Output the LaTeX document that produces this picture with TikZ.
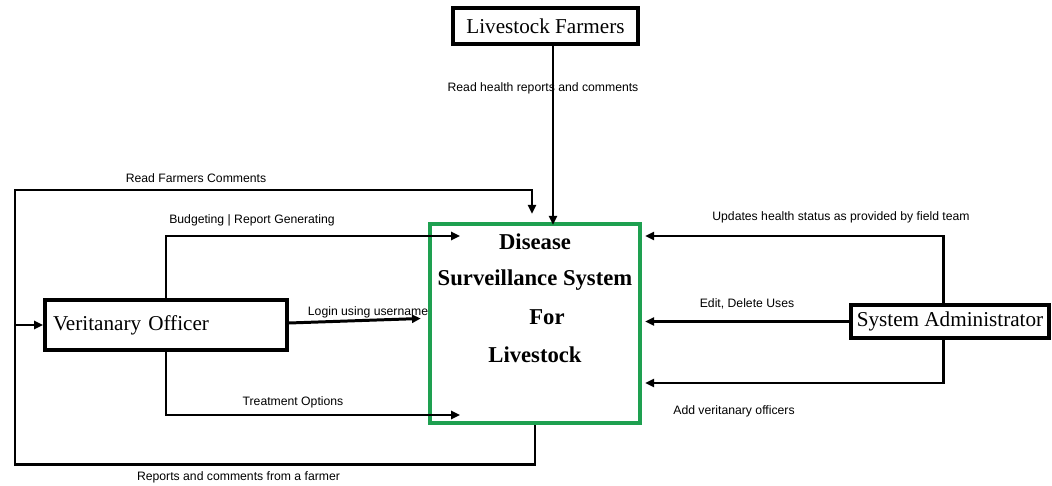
\documentclass[tikz,border=0pt]{standalone}
\usepackage{fontspec}
\setmainfont{Liberation Serif}
\newfontfamily\labelfont{Liberation Sans}
\usetikzlibrary{arrows.meta,calc}
\definecolor{sysgreen}{RGB}{30,160,80}
\begin{document}
\begin{tikzpicture}[x=0.02cm,y=-0.02cm,
  actor/.style={draw=black,line width=2.3pt,fill=white,inner sep=0pt,
    font=\fontsize{12.05}{14}\selectfont},
  system/.style={draw=sysgreen,line width=2.6pt,inner sep=0pt,
    minimum width=4.2cm,minimum height=3.98cm},
  systext/.style={font=\fontsize{12.9}{15}\selectfont\bfseries,inner sep=0pt},
  conn/.style={draw=black,line width=1.7pt},
  arr/.style={conn,-{Triangle[length=5pt,width=4.6pt]}},
  flow/.style={font=\labelfont\fontsize{6.95}{8}\selectfont,inner sep=0pt}]
\useasboundingbox (0,0) rectangle (1052,486);

% central system
\node[system] (dss) at (535,323.5) {};
\node[systext] (s1) at (535,242) {Disease};
\node[systext] (s2) at (535,280) {Surveillance System};
\node[systext] (s3) at (547,317) {For};
\node[systext] (s4) at (535,355) {Livestock};

% external entities
\node[actor,minimum width=3.7cm,minimum height=0.72cm] (farmers) at (545.5,26) {Livestock Farmers};
\node[actor,minimum height=1cm,text width=4.52cm,inner xsep=0.16cm,align=left] (officer) at (166,325) {Veritanary Officer};
\node[actor,minimum width=3.96cm,minimum height=0.66cm] (admin) at (950,321.5) {System Administrator};

% helper points
\coordinate (fx) at (553,0);
\coordinate (jl) at (15,325);
\coordinate (cx) at (532,0);
\coordinate (ax) at (943,0);
\coordinate (bIn) at (460,236);
\coordinate (tIn) at (460,415);

% farmers -> system (the label sits under the line)
\node[flow] (l1) at (543,88) {Read health reports and comments};
\draw[arr] (farmers.south -| fx) -- ($(dss.north -| fx)+(0,3)$);

% officer loop through the left side
\draw[conn] (dss.south) -- ++(0,39) -| (jl);
\draw[arr] (jl) -- (officer.west);
\draw[arr] (jl) -- (15,190) -| ($(dss.north -| cx)+(0,-8)$);
\node[flow] (l2) at (196,178) {Read Farmers Comments};
\node[flow] (l3) at (238.5,477) {Reports and comments from a farmer};

% officer -> system
\draw[arr] (officer.north) |- (bIn);
\node[flow] (l4) at (252,220) {Budgeting | Report Generating};
\draw[arr] ($(officer.east)+(0,-2)$) -- ($(dss.west)+(-7,-5)$);
\node[flow] (l5) at (368,312) {Login using username};
\draw[arr] (officer.south) |- (tIn);
\node[flow] (l6) at (293,402) {Treatment Options};

% administrator -> system
\draw[arr] (admin.north -| ax) |- ($(dss.east |- 0,236)+(3,0)$);
\node[flow] (l7) at (841,217) {Updates health status as provided by field team};
\draw[arr] (admin.west) -- ($(dss.east |- admin.west)+(3,0)$);
\node[flow] (l8) at (747,304) {Edit, Delete Uses};
\draw[arr] (admin.south -| ax) |- ($(dss.east |- 0,383)+(3,0)$);
\node[flow] (l9) at (734,411) {Add veritanary officers};
\end{tikzpicture}
\end{document}
